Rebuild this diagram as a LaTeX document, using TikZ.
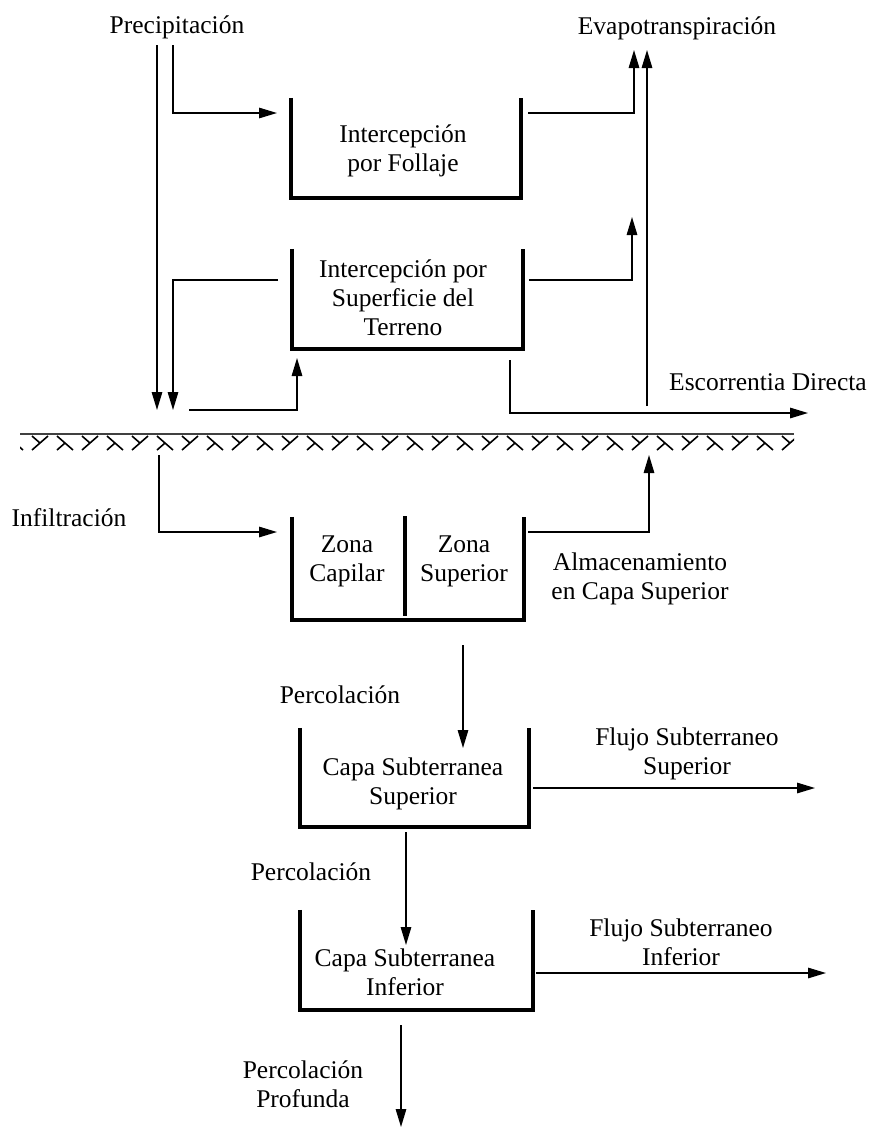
\documentclass[tikz,border=0pt]{standalone}
\usepackage{fontspec}
\setmainfont{Liberation Serif}
\usetikzlibrary{arrows.meta}
\begin{document}
\begin{tikzpicture}[x=1pt,y=-1pt,
  lbl/.style={font=\fontsize{25.5}{29}\selectfont, align=center, inner sep=0pt},
  flow/.style={line width=1.4pt, -{Triangle[length=18pt,width=10.5pt]}},
  wall/.style={line width=4pt},
  bucket/.style={draw=none, inner sep=0pt},
  hatchline/.style={line width=1.6pt},
  groundline/.style={line width=1.8pt, black!75},
]
\useasboundingbox (0,0) rectangle (869,1128);

% buckets
\node[bucket, minimum width=230pt, minimum height=100pt] (b1) at (406,148) {};
\node[bucket, minimum width=231pt, minimum height=100pt] (b2) at (407.5,299) {};
\node[bucket, minimum width=232pt, minimum height=103pt] (b3) at (408,568.5) {};
\node[bucket, minimum width=229pt, minimum height=99pt] (b4) at (414.5,777.5) {};
\node[bucket, minimum width=233pt, minimum height=100pt] (b5) at (416.5,960) {};
\foreach \b in {b1,b2,b3,b4,b5}
  \draw[wall] (\b.north west) |- (\b.south east) -- (\b.north east);
\coordinate (d3t) at (405,516);
\coordinate (d3b) at (405,616);
\draw[wall] (d3t) -- (d3b);

% labels
\node[lbl] (tprec) at (177,27) {Precipitación};
\node[lbl] (tevap) at (677,28) {Evapotranspiración};
\node[lbl] (t1) at (403,151) {Intercepción\\por Follaje};
\node[lbl] (t2) at (403,298) {Intercepción por\\Superficie del\\Terreno};
\node[lbl] (tesc) at (768,382) {Escorrentia Directa};
\node[lbl] (tinf) at (69,518) {Infiltración};
\node[lbl] (tzc) at (347,561) {Zona\\Capilar};
\node[lbl] (tzs) at (464,561) {Zona\\Superior};
\node[lbl] (talm) at (640,579) {Almacenamiento\\en Capa Superior};
\node[lbl] (tper1) at (340,695) {Percolación};
\node[lbl] (t4) at (413,784) {Capa Subterranea\\Superior};
\node[lbl] (tfs) at (687,754) {Flujo Subterraneo\\Superior};
\node[lbl] (tper2) at (311,872) {Percolación};
\node[lbl] (t5) at (405,972) {Capa Subterranea\\Inferior};
\node[lbl] (tfi) at (681,942) {Flujo Subterraneo\\Inferior};
\node[lbl] (tper3) at (303,1084) {Percolación\\Profunda};

% ground surface
\coordinate (gl) at (20,434);
\coordinate (gr) at (794,434);
\begin{scope}
  \clip (20,430) rectangle (794,454);
  \foreach \c in {-10,40,...,790} {
    \draw[hatchline] (\c-8,450) -- (\c+8,436) (\c-8,436) -- (\c,443);
    \draw[hatchline] (\c+17,436) -- (\c+33,450) (\c+17,450) -- (\c+25,443);
  }
\end{scope}
\draw[groundline] (gl) -- (gr);

% coordinates for connectors
\coordinate (a1s) at (157,45);   \coordinate (a1e) at (157,410);
\coordinate (a2s) at (173,45);   \coordinate (a2e) at (277,113);
\coordinate (a3s) at (528,113);  \coordinate (a3e) at (634,50);
\coordinate (a4s) at (647,406);  \coordinate (a4e) at (647,50);
\coordinate (a5s) at (278,280);  \coordinate (a5e) at (173,410);
\coordinate (a6s) at (529,280);  \coordinate (a6e) at (632,217);
\coordinate (a7s) at (189,410);  \coordinate (a7e) at (297,358);
\coordinate (a8s) at (510,360);  \coordinate (a8e) at (808,413);
\coordinate (a9s) at (159,455);  \coordinate (a9e) at (277,532);
\coordinate (a10s) at (528,532); \coordinate (a10e) at (649,455);
\coordinate (a11s) at (463,645); \coordinate (a11e) at (463,748);
\coordinate (a12s) at (533,788); \coordinate (a12e) at (815,788);
\coordinate (a13s) at (406,832); \coordinate (a13e) at (406,945);
\coordinate (a14s) at (536,973); \coordinate (a14e) at (826,973);
\coordinate (a15s) at (401,1025);\coordinate (a15e) at (401,1127);

% connectors
\draw[flow] (a1s) -- (a1e);
\draw[flow] (a2s) |- (a2e);
\draw[flow] (a3s) -| (a3e);
\draw[flow] (a4s) -- (a4e);
\draw[flow] (a5s) -| (a5e);
\draw[flow] (a6s) -| (a6e);
\draw[flow] (a7s) -| (a7e);
\draw[flow] (a8s) |- (a8e);
\draw[flow] (a9s) |- (a9e);
\draw[flow] (a10s) -| (a10e);
\draw[flow] (a11s) -- (a11e);
\draw[flow] (a12s) -- (a12e);
\draw[flow] (a13s) -- (a13e);
\draw[flow] (a14s) -- (a14e);
\draw[flow] (a15s) -- (a15e);
\end{tikzpicture}
\end{document}
